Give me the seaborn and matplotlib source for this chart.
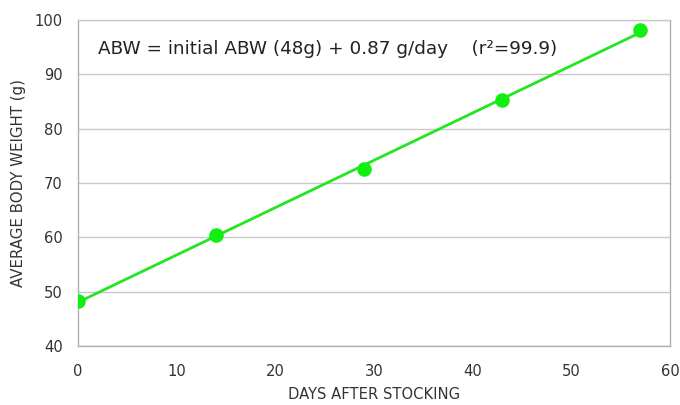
import numpy as np
import pandas as pd
import matplotlib
matplotlib.use("Agg")
import matplotlib.pyplot as plt
import seaborn as sns

sns.set_style("white")
plt.rcParams['font.family'] = ['DejaVu Sans']

# 측정 데이터
days = [0, 14, 29, 43, 57]
abw = [48.3, 60.5, 72.5, 85.3, 98.2]
x_ticks = [0, 10, 20, 30, 40, 50, 60]
y_ticks = [40, 50, 60, 70, 80, 90, 100]

df = pd.DataFrame({'days': days, 'abw': abw})

fig = plt.figure(figsize=(6.8, 4.05), dpi=100)
ax = fig.add_axes([0.1147, 0.1457, 0.8706, 0.8049])

green = '#22e622'
sns.regplot(data=df, x='days', y='abw', ax=ax, ci=None, truncate=True,
            scatter_kws={'s': 110, 'color': '#11ee11', 'alpha': 1, 'linewidths': 0, 'zorder': 4},
            line_kws={'color': green, 'lw': 2, 'zorder': 3})

ax.set_xlim(0, 60)
ax.set_ylim(40, 100)
ax.set_xticks(x_ticks)
ax.set_yticks(y_ticks)
ax.yaxis.grid(True, color='#c8c8c8', lw=1)
ax.set_axisbelow(True)

for name, sp in ax.spines.items():
    sp.set_visible(True)
    sp.set_color('#b0b0b0')
    sp.set_linewidth(1)
ax.spines['top'].set_color('#c8c8c8')

ax.tick_params(axis='x', direction='in', length=4, color='#b0b0b0', labelsize=10.6,
               labelcolor='#333333', pad=13)
ax.tick_params(axis='y', direction='out', length=6, color='#c8c8c8', labelsize=10.6,
               labelcolor='#333333', pad=5)

ax.set_xlabel('DAYS AFTER STOCKING', fontsize=10.6, color='#333333', labelpad=6)
ax.set_ylabel('AVERAGE BODY WEIGHT (g)', fontsize=10.8, color='#333333', labelpad=6)

ax.text(2.0, 94.6, 'ABW = initial ABW (48g) + 0.87 g/day    (r²=99.9)',
        fontsize=13.2, color='#222222', va='center', ha='left')

fig.savefig('out.png', dpi=100)
